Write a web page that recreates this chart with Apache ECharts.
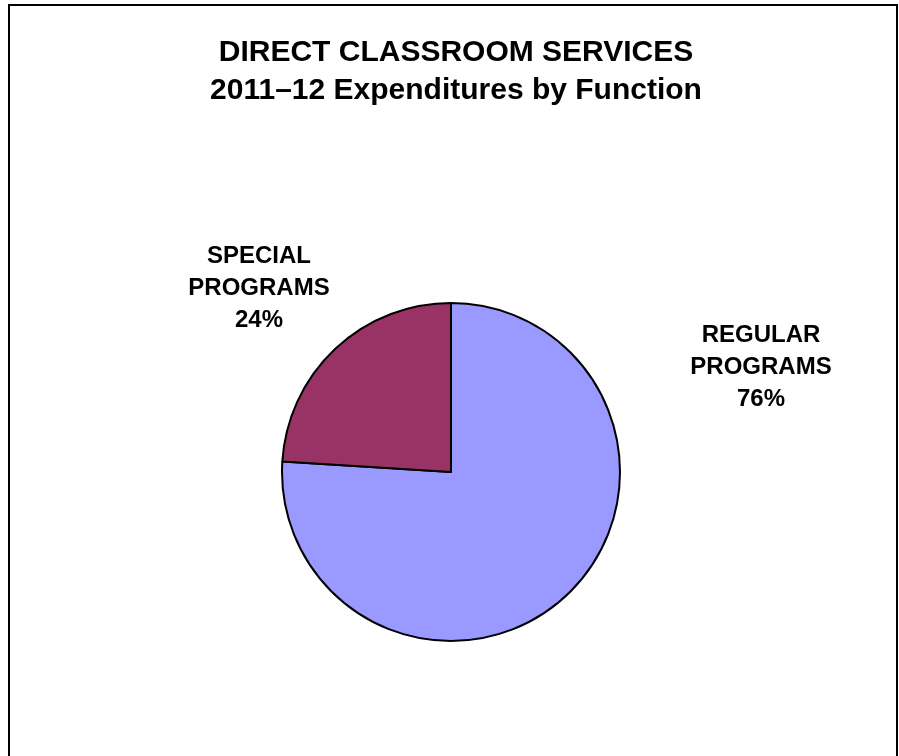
<!DOCTYPE html>
<html>
<head>
<meta charset="utf-8">
<script src="https://cdn.jsdelivr.net/npm/echarts@6/dist/echarts.min.js"></script>
<style>
  html, body { margin: 0; padding: 0; background: #fff; }
  #chart { width: 899px; height: 756px; }
</style>
</head>
<body>
<div id="chart"></div>
<script>
// Expenditure shares by function (percent)
const categories = ['REGULAR\nPROGRAMS', 'SPECIAL\nPROGRAMS'];
const shares = [76, 24];
const sliceColors = ['#9999FF', '#993366'];
// Label anchor points (pixels) for each slice's text block
const labelAnchors = [[761, 367], [259, 288]];

const FONT = '"Liberation Sans", Arial, sans-serif';

const chart = echarts.init(document.getElementById('chart'), null, { renderer: 'canvas' });

chart.setOption({
  backgroundColor: '#ffffff',
  animation: false,
  title: {
    text: 'DIRECT CLASSROOM SERVICES\n2011\u201312 Expenditures by Function',
    left: 451,
    top: 29,
    textAlign: 'center',
    textStyle: {
      fontFamily: FONT,
      fontWeight: 'bold',
      fontSize: 30,
      lineHeight: 38,
      color: '#000'
    }
  },
  graphic: [{
    type: 'rect',
    shape: { x: 9, y: 5, width: 888, height: 800 },
    style: { fill: 'none', stroke: '#000', lineWidth: 2 },
    silent: true
  }],
  series: [{
    type: 'pie',
    center: [451, 472],
    radius: 169,
    startAngle: 90,
    clockwise: true,
    silent: true,
    itemStyle: { borderColor: '#000', borderWidth: 2 },
    label: {
      show: true,
      formatter: '{b}\n{d}%',
      fontFamily: FONT,
      fontWeight: 'bold',
      fontSize: 24,
      lineHeight: 32,
      color: '#000',
      align: 'center'
    },
    labelLine: { show: false },
    labelLayout: function (params) {
      const p = labelAnchors[params.dataIndex];
      return { x: p[0], y: p[1], align: 'center', verticalAlign: 'middle' };
    },
    data: categories.map((name, i) => ({
      name: name,
      value: shares[i],
      itemStyle: { color: sliceColors[i] }
    }))
  }]
});
</script>
</body>
</html>
